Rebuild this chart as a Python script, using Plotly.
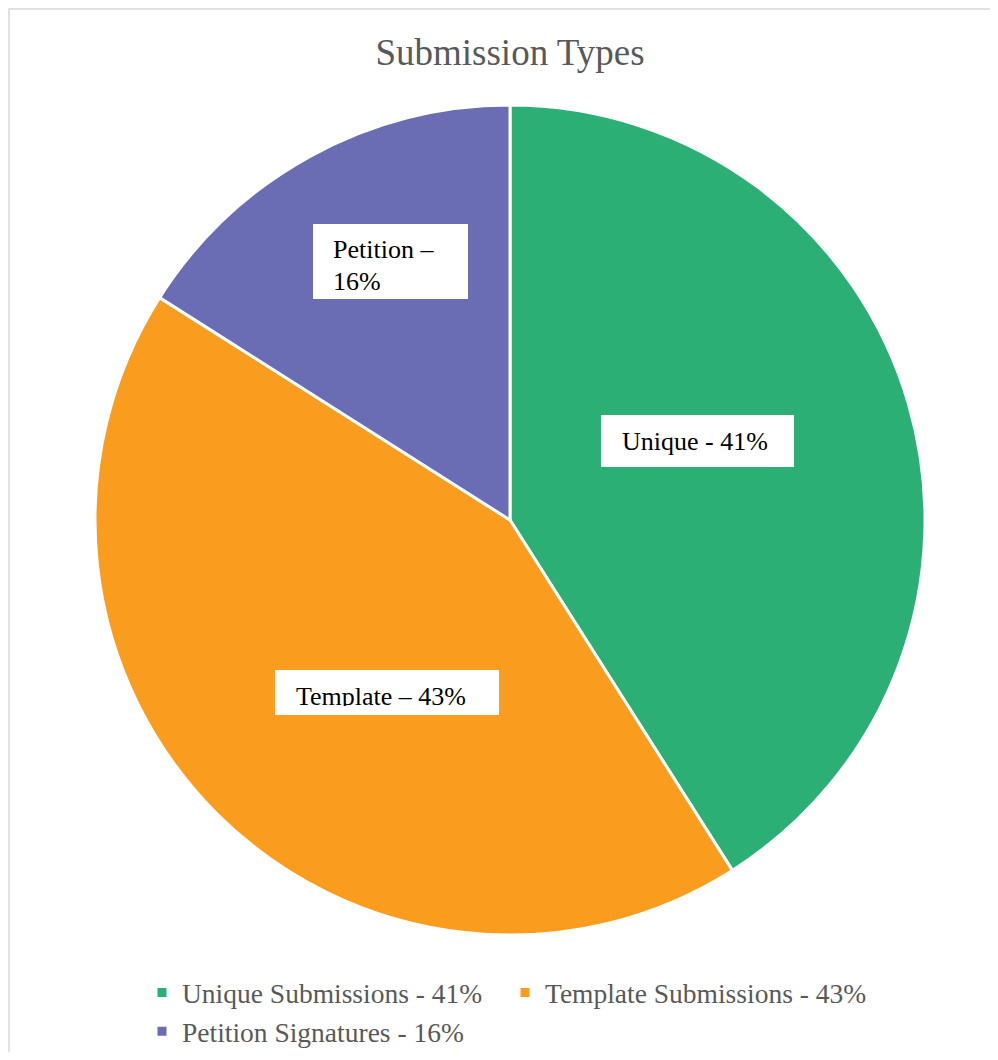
import plotly.graph_objects as go

# Page body has an 8px margin, so the figure is offset by 8px and sized
# so the page does not overflow the window.
OFF = 8
W, H = 998 - 2 * OFF, 1060 - 2 * OFF

categories = ["Unique Submissions - 41%", "Template Submissions - 43%", "Petition Signatures - 16%"]
values = [41, 43, 16]
colors = ["#2BAF75", "#FA9C1E", "#6A6DB4"]
title_text = "Submission Types"
slice_labels = ["Unique - 41%", "Template – 43%", "Petition –", "16%"]

SERIF = "Times New Roman, Liberation Serif, DejaVu Serif, serif"

def px(x):
    return (x - OFF) / W

def py(y):
    return 1 - (y - OFF) / H

fig = go.Figure(go.Pie(
    labels=categories,
    values=values,
    marker=dict(colors=colors, line=dict(color="white", width=3)),
    sort=False,
    direction="clockwise",
    rotation=0,
    textinfo="none",
    hoverinfo="label+percent",
    domain=dict(x=[px(95), px(925)], y=[py(935), py(105)]),
))

shapes = [
    # outer chart border
    dict(type="rect", xref="paper", yref="paper", x0=0.001, x1=1.05, y0=-0.05, y1=0.999,
         line=dict(color="#D9D9D9", width=1.5), fillcolor="rgba(0,0,0,0)", layer="below"),
    # label boxes
    dict(type="rect", xref="paper", yref="paper", x0=px(601), x1=px(794), y0=py(467), y1=py(415),
         line=dict(width=0), fillcolor="white", layer="above"),
    dict(type="rect", xref="paper", yref="paper", x0=px(275), x1=px(499), y0=py(715), y1=py(670),
         line=dict(width=0), fillcolor="white", layer="above"),
    dict(type="rect", xref="paper", yref="paper", x0=px(313), x1=px(468), y0=py(299), y1=py(224),
         line=dict(width=0), fillcolor="white", layer="above"),
]

lab_font = dict(family=SERIF, size=26, color="#000000")
annotations = [
    dict(text=slice_labels[0], xref="paper", yref="paper", x=px(620), y=py(441),
         xanchor="left", yanchor="middle", showarrow=False, font=lab_font),
    dict(text=slice_labels[1], xref="paper", yref="paper", x=px(294), y=py(680),
         xanchor="left", yanchor="top", showarrow=False, font=lab_font,
         height=24, valign="top", align="left", width=210),
    dict(text=slice_labels[2], xref="paper", yref="paper", x=px(331), y=py(250),
         xanchor="left", yanchor="middle", showarrow=False, font=lab_font),
    dict(text=slice_labels[3], xref="paper", yref="paper", x=px(331), y=py(281),
         xanchor="left", yanchor="middle", showarrow=False, font=lab_font),
]

fig.update_layout(
    width=W, height=H,
    margin=dict(l=0, r=0, t=0, b=0, autoexpand=False),
    paper_bgcolor="white",
    plot_bgcolor="white",
    title=dict(text=title_text, x=px(510), xanchor="center", y=py(52), yanchor="middle",
               yref="container", font=dict(family=SERIF, size=37, color="#595959")),
    legend=dict(orientation="h", x=px(142), xanchor="left", y=py(968), yanchor="top",
                font=dict(family=SERIF, size=27.5, color="#595959"),
                traceorder="normal", entrywidth=318, entrywidthmode="pixels",
                bgcolor="rgba(0,0,0,0)"),
    shapes=shapes,
    annotations=annotations,
    showlegend=True,
)

fig.write_html("out.html")
